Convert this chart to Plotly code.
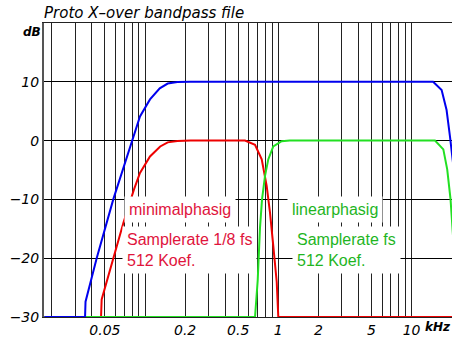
import plotly.graph_objects as go

# ---- data (frequencies in kHz, levels in dB) ----
blue_f = [0.0176, 0.0355, 0.0358, 0.0434, 0.0578, 0.0795, 0.0917, 0.109, 0.129, 0.148, 0.175, 0.22, 1.0, 10.0, 14.5, 16.8, 18.3, 19.4, 21.0]
blue_db = [-30, -30, -27.4, -20, -10, 0, 4.1, 7.0, 8.9, 9.7, 9.95, 10, 10, 10, 10, 8.6, 5.2, 0.7, -6]

red_f = [0.0176, 0.0468, 0.0473, 0.0614, 0.0688, 0.0827, 0.0917, 0.109, 0.13, 0.148, 0.175, 0.22, 0.5625, 0.669, 0.751, 0.818, 0.866, 0.917, 0.973, 1.0, 21.0]
red_db = [-30, -30, -27, -18, -14, -8.3, -5.5, -2.7, -1.0, -0.3, -0.05, 0, 0, -0.7, -3.2, -7.7, -12.2, -17.9, -24, -30, -30]

green_f = [0.0176, 0.669, 0.7005, 0.729, 0.755, 0.795, 0.841, 0.917, 1.06, 1.22, 10.0, 14.98, 17.3, 18.5, 19.6, 21.0]
green_db = [-30, -30, -23.8, -14.8, -10, -6, -3.2, -1, -0.1, 0, 0, 0, -1.5, -4.9, -10, -20]

x_label_vals = [0.05, 0.2, 0.5, 1, 2, 5, 10]
x_label_text = ["0.05", "0.2", "0.5", "1", "2", "5", "10"]
y_tick_vals = [-30, -20, -10, 0, 10]

# grid lines at every 1..9 multiple of each decade
grid_vals = []
for e in (-2, -1, 0, 1):
    for m in range(1, 10):
        v = round(m * 10 ** e, 6)
        if 0.0176 <= v <= 20.0:
            grid_vals.append(v)
grid_vals.append(20.0)
grid_text = []
for v in grid_vals:
    txt = ""
    for lv, lt in zip(x_label_vals, x_label_text):
        if abs(v - lv) < 1e-9:
            txt = lt
    grid_text.append(txt)

RED_LINE = "#ee0000"
BLUE_LINE = "#0000ee"
GREEN_LINE = "#22e022"
RED_TXT = "#e0143c"
GREEN_TXT = "#1fb51f"

fig = go.Figure()
fig.add_trace(go.Scatter(x=red_f, y=red_db, mode="lines", line=dict(color=RED_LINE, width=2), hoverinfo="skip"))
fig.add_trace(go.Scatter(x=green_f, y=green_db, mode="lines", line=dict(color=GREEN_LINE, width=2), hoverinfo="skip"))
fig.add_trace(go.Scatter(x=blue_f, y=blue_db, mode="lines", line=dict(color=BLUE_LINE, width=2), hoverinfo="skip"))

tickfont = dict(family="DejaVu Sans", size=14, color="black", style="italic")

fig.update_layout(
    width=452, height=338,
    margin=dict(l=44, r=0, t=23, b=19),
    plot_bgcolor="white", paper_bgcolor="white",
    showlegend=False,
    xaxis=dict(type="log", range=[-1.7577, 1.3031], tickvals=grid_vals, ticktext=grid_text,
               showgrid=True, gridcolor="#222222", gridwidth=1, zeroline=False,
               showline=True, mirror=True, linecolor="#222222", linewidth=1,
               ticks="", tickfont=tickfont),
    yaxis=dict(range=[-30, 20], tickvals=y_tick_vals, ticktext=["\u221230", "\u221220", "\u221210", "0", "10"],
               showgrid=True, gridcolor="black", gridwidth=1, zeroline=False,
               showline=True, linecolor="#555555", linewidth=2,
               ticks="", tickfont=tickfont),
)

PW, PL, PT, PB = 408.0, 44.0, 23.0, 319.0
def px(x):
    return (x - PL) / PW
def py(y):
    return (PB - y) / (PB - PT)

box_font = dict(family="Liberation Sans, Arial, sans-serif", size=16)
anns = [
    dict(text="minimalphasig", x=px(124), y=py(211), color=RED_TXT),
    dict(text="Samplerate 1/8 fs<br>512 Koef.", x=px(122), y=py(252), color=RED_TXT),
    dict(text="linearphasig", x=px(286.7), y=py(211), color=GREEN_TXT),
    dict(text="Samplerate fs<br>512 Koef.", x=px(292), y=py(252), color=GREEN_TXT),
]
for a in anns:
    fig.add_annotation(xref="paper", yref="paper", x=a["x"], y=a["y"], text=a["text"],
                       xanchor="left", yanchor="middle", align="left", showarrow=False,
                       bgcolor="white", borderpad=4,
                       font=dict(box_font, color=a["color"]))

fig.add_annotation(xref="paper", yref="paper", x=0, y=1, xanchor="left", yanchor="middle",
                   yshift=10, xshift=-2, showarrow=False, text="Proto X\u2013over bandpass file",
                   font=dict(family="DejaVu Sans", size=15, color="black", style="italic"))
fig.add_annotation(xref="paper", yref="paper", x=0, y=1, xanchor="right", yanchor="middle",
                   yshift=-9, xshift=-1, showarrow=False, text="<b>dB</b>",
                   font=dict(family="DejaVu Sans", size=12, color="black", style="italic"))
fig.add_annotation(xref="paper", yref="paper", x=1, y=0, xanchor="right", yanchor="middle",
                   yshift=-10, xshift=1, showarrow=False, text="<b>kHz</b>",
                   font=dict(family="DejaVu Sans", size=12, color="black", style="italic"))

fig.write_html("out.html", config={"displayModeBar": False},
               post_script="document.body.style.margin='0';document.body.style.padding='0';")
